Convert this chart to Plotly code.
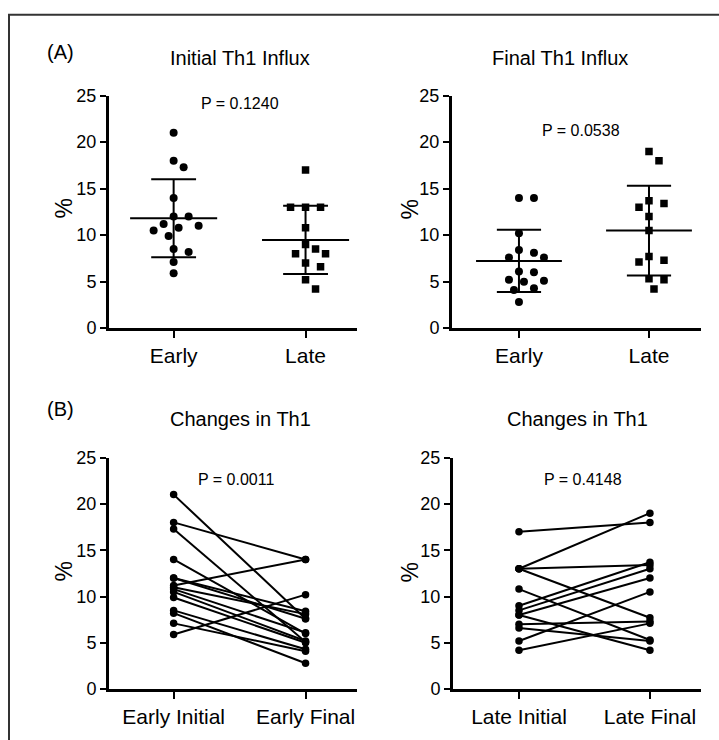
import numpy as np
import plotly.graph_objects as go

# ---------------- data ----------------
early_initial = [21, 18, 17.3, 14, 12, 12, 11.2, 11, 10.8, 10.5, 9.9, 8.5, 8.2, 7.1, 5.9]
early_final = [7.6, 14, 5.1, 6.0, 8.4, 7.6, 14, 8.1, 6.1, 5.2, 5.0, 4.3, 2.8, 4.1, 10.2]
late_initial = [17, 13, 13, 13, 10.8, 9, 8.5, 8, 8, 7, 6.6, 5.2, 4.2]
late_final = [18, 19, 13.4, 7.7, 5.3, 13.7, 13, 4.2, 12, 7.3, 5.2, 10.5, 7.1]

cats_a = ["Early", "Late"]
cats_b_early = ["Early Initial", "Early Final"]
cats_b_late = ["Late Initial", "Late Final"]
titles = ["Initial Th1 Influx", "Final Th1 Influx", "Changes in Th1", "Changes in Th1"]
p_values = ["P = 0.1240", "P = 0.0538", "P = 0.0011", "P = 0.4148"]
y_ticks = [0, 5, 10, 15, 20, 25]

# ---------------- layout geometry (pixels) ----------------
W, H = 719, 740
FONT = "Liberation Sans, Arial, Helvetica, sans-serif"

def fx(px):
    return px / W

def fy(py):
    return 1 - py / H

panels = {
    # name: (x_left_px, x_right_px, y_top_px, y_bottom_px, xrange)
    "A1": (109, 357, 88, 327, [-0.49, 1.39]),
    "A2": (452, 701, 88, 327, [-0.515, 1.40]),
    "B1": (109, 357, 460, 698, [-0.49, 1.39]),
    "B2": (453, 701, 460, 698, [-0.504, 1.39]),
}
axis_ids = {"A1": ("x", "y"), "A2": ("x2", "y2"), "B1": ("x3", "y3"), "B2": ("x4", "y4")}

fig = go.Figure()

def px_scale(name):
    xl, xr, yt, yb, xr_ = panels[name]
    return (xr - xl) / (xr_[1] - xr_[0]), (yb - yt) / 25.0

def beeswarm(values, center, name, d=11.0, step=5.0):
    sx, sy = px_scale(name)
    order = sorted(range(len(values)), key=lambda i: -values[i])
    placed = []
    xs = [0.0] * len(values)
    for i in order:
        yp = values[i] * sy
        cands = [0.0]
        for m in range(1, 40):
            cands += [m * step, -m * step]
        for off in cands:
            if all((off - ox) ** 2 + (yp - oy) ** 2 >= d * d for ox, oy in placed):
                placed.append((off, yp))
                xs[i] = center + off / sx
                break
    return xs

def add_scatter_panel(name, groups, symbols):
    xa, ya = axis_ids[name]
    for gi, (vals, sym) in enumerate(zip(groups, symbols)):
        xs = beeswarm(vals, gi, name)
        fig.add_trace(go.Scatter(x=xs, y=vals, mode="markers", xaxis=xa, yaxis=ya,
                                 marker=dict(symbol=sym, size=8 if sym == "circle" else 7.5,
                                             color="black"),
                                 showlegend=False, hoverinfo="skip"))
        m = float(np.mean(vals))
        s = float(np.std(vals, ddof=1))
        lx, ly = [], []
        lx += [gi - 0.33, gi + 0.33, None]
        ly += [m, m, None]
        lx += [gi - 0.17, gi + 0.17, None, gi - 0.17, gi + 0.17, None]
        ly += [m + s, m + s, None, m - s, m - s, None]
        lx += [gi, gi]
        ly += [m - s, m + s]
        fig.add_trace(go.Scatter(x=lx, y=ly, mode="lines", xaxis=xa, yaxis=ya,
                                 line=dict(color="black", width=2),
                                 showlegend=False, hoverinfo="skip"))

def add_paired_panel(name, before, after):
    xa, ya = axis_ids[name]
    xs, ys = [], []
    for b, a in zip(before, after):
        xs += [0, 1, None]
        ys += [b, a, None]
    fig.add_trace(go.Scatter(x=xs, y=ys, mode="lines+markers", xaxis=xa, yaxis=ya,
                             line=dict(color="black", width=2),
                             marker=dict(symbol="circle", size=7.5, color="black"),
                             showlegend=False, hoverinfo="skip"))

add_scatter_panel("A1", [early_initial, late_initial], ["circle", "square"])
add_scatter_panel("A2", [early_final, late_final], ["circle", "square"])
add_paired_panel("B1", early_initial, early_final)
add_paired_panel("B2", late_initial, late_final)

layout = dict(width=W, height=H, margin=dict(l=0, r=0, t=0, b=0),
              paper_bgcolor="white", plot_bgcolor="white",
              font=dict(family=FONT, color="black"))

tick_cats = {"A1": cats_a, "A2": cats_a, "B1": cats_b_early, "B2": cats_b_late}
for name, (xl, xr, yt, yb, xrange_) in panels.items():
    xa, ya = axis_ids[name]
    xkey = "xaxis" if xa == "x" else "xaxis" + xa[1:]
    ykey = "yaxis" if ya == "y" else "yaxis" + ya[1:]
    layout[xkey] = dict(domain=[fx(xl), fx(xr)], range=xrange_, anchor=ya,
                        tickmode="array", tickvals=[0, 1], ticktext=tick_cats[name],
                        ticks="outside", ticklen=7, tickwidth=2, tickcolor="black",
                        showline=True, linewidth=3, linecolor="black",
                        showgrid=False, zeroline=False,
                        tickfont=dict(size=21, family=FONT, color="black"))
    layout[ykey] = dict(domain=[fy(yb), fy(yt)], range=[0, 25], anchor=xa,
                        tickmode="array", tickvals=y_ticks,
                        ticks="outside", ticklen=6, tickwidth=2, tickcolor="black",
                        showline=True, linewidth=3, linecolor="black",
                        showgrid=False, zeroline=False,
                        tickfont=dict(size=18, family=FONT, color="black"))

fig.update_layout(**layout)

ann = []
def text(px, py, s, size, angle=0):
    ann.append(dict(x=fx(px), y=fy(py), xref="paper", yref="paper", text=s,
                    showarrow=False, xanchor="center", yanchor="middle", textangle=angle,
                    font=dict(size=size, family=FONT, color="black")))

text(61, 43, "(A)", 20)
text(61, 410, "(B)", 20)
text(240, 49, titles[0], 20)
text(560, 49, titles[1], 20)
text(240, 420, titles[2], 20)
text(577, 420, titles[3], 20)
text(240, 96, p_values[0], 16)
text(581, 124, p_values[1], 16)
text(236, 483, p_values[2], 16)
text(583, 483, p_values[3], 16)
text(64, 204, "%", 23, -90)
text(410, 205, "%", 23, -90)
text(64, 577, "%", 23, -90)
text(410, 578, "%", 23, -90)
fig.update_layout(annotations=ann)

fig.add_shape(type="rect", xref="paper", yref="paper",
              x0=fx(9), x1=1.02, y0=-0.02, y1=fy(5),
              line=dict(color="#333333", width=2), fillcolor="rgba(0,0,0,0)", layer="below")

fig.write_html("out.html", config={"displayModeBar": False},
               post_script="document.body.style.margin='0';document.body.style.overflow='hidden';")
